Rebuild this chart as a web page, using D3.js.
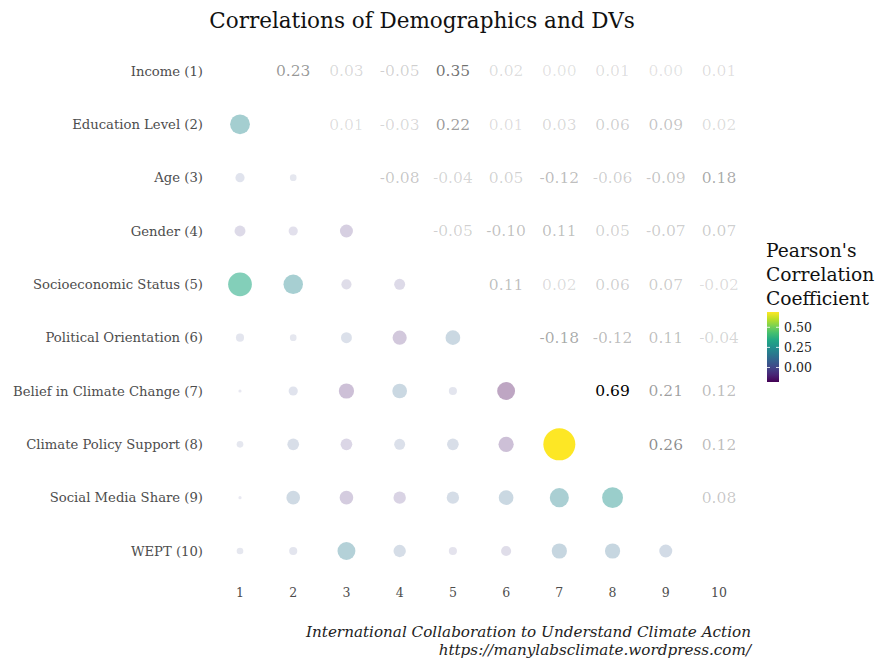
<!DOCTYPE html>
<html>
<head>
<meta charset="utf-8">
<script src="https://cdn.jsdelivr.net/npm/d3@7"></script>
<style>
  body { margin: 0; background: #fff; }
  text { font-family: "DejaVu Serif", Georgia, serif; }
</style>
</head>
<body>
<svg width="877" height="659"></svg>
<script>
// variable names, in matrix order
const labels = [
  "Income (1)", "Education Level (2)", "Age (3)", "Gender (4)",
  "Socioeconomic Status (5)", "Political Orientation (6)",
  "Belief in Climate Change (7)", "Climate Policy Support (8)",
  "Social Media Share (9)", "WEPT (10)"
];
const codes = [1, 2, 3, 4, 5, 6, 7, 8, 9, 10];

// upper triangle of the correlation matrix, row by row (columns i+1..10)
const row1 = [0.23, 0.03, -0.05, 0.35, 0.02, 0.00, 0.01, 0.00, 0.01];
const row2 = [0.01, -0.03, 0.22, 0.01, 0.03, 0.06, 0.09, 0.02];
const row3 = [-0.08, -0.04, 0.05, -0.12, -0.06, -0.09, 0.18];
const row4 = [-0.05, -0.10, 0.11, 0.05, -0.07, 0.07];
const row5 = [0.11, 0.02, 0.06, 0.07, -0.02];
const row6 = [-0.18, -0.12, 0.11, -0.04];
const row7 = [0.69, 0.21, 0.12];
const row8 = [0.26, 0.12];
const row9 = [0.08];
const upper = [row1, row2, row3, row4, row5, row6, row7, row8, row9];

const legendTicks = [0, 0.25, 0.5];

// build cells
const cells = [];
upper.forEach((row, i) => {
  row.forEach((v, k) => {
    const j = i + k + 1;
    cells.push({ row: codes[i], col: codes[j], r: v, type: "text" });
    cells.push({ row: codes[j], col: codes[i], r: v, type: "dot" });
  });
});

const svg = d3.select("svg");

const x = d3.scalePoint().domain(codes).range([240, 719]);
const y = d3.scalePoint().domain(codes).range([71, 551]);

const rMin = -0.18, rMax = 0.69;
const color = d3.scaleSequential(d3.interpolateViridis).domain([rMin, rMax]);
const alpha = d3.scaleLinear().domain([0, rMax]).range([0.12, 1]);
const size = d3.scaleSqrt().domain([0, rMax]).range([1.6, 16]);

// title
svg.append("text")
  .attr("x", 422).attr("y", 28)
  .attr("text-anchor", "middle")
  .attr("font-size", 21.5)
  .attr("fill", "#111")
  .text("Correlations of Demographics and DVs");

// row labels
svg.append("g").selectAll("text")
  .data(codes)
  .join("text")
  .attr("x", 203)
  .attr("y", d => y(d))
  .attr("dy", "0.35em")
  .attr("text-anchor", "end")
  .attr("font-size", 13.2)
  .attr("fill", "#4d4d4d")
  .text(d => labels[d - 1]);

// column labels
svg.append("g").selectAll("text")
  .data(codes)
  .join("text")
  .attr("x", d => x(d))
  .attr("y", 593)
  .attr("dy", "0.35em")
  .attr("text-anchor", "middle")
  .attr("font-size", 12.5)
  .attr("fill", "#4d4d4d")
  .text(d => d);

// dots, lower triangle
svg.append("g").selectAll("circle")
  .data(cells.filter(d => d.type === "dot"))
  .join("circle")
  .attr("cx", d => x(d.col))
  .attr("cy", d => y(d.row))
  .attr("r", d => size(Math.abs(d.r)))
  .attr("fill", d => color(d.r))
  .attr("fill-opacity", d => alpha(Math.abs(d.r)));

// numbers, upper triangle
svg.append("g").selectAll("text")
  .data(cells.filter(d => d.type === "text"))
  .join("text")
  .attr("x", d => x(d.col))
  .attr("y", d => y(d.row))
  .attr("dy", "0.35em")
  .attr("text-anchor", "middle")
  .attr("font-size", 15.5)
  .attr("fill", "#000")
  .attr("fill-opacity", d => alpha(Math.abs(d.r)))
  .text(d => d3.format(".2f")(d.r).replace("−", "-"));

// legend
const lg = svg.append("g");
["Pearson's", "Correlation", "Coefficient"].forEach((t, i) => {
  lg.append("text")
    .attr("x", 766).attr("y", 257 + i * 24)
    .attr("font-size", 18.7)
    .attr("fill", "#111")
    .text(t);
});

const ly = d3.scaleLinear().domain([rMin, rMax]).range([382, 312]);
const grad = svg.append("defs").append("linearGradient")
  .attr("id", "vir").attr("x1", 0).attr("y1", 1).attr("x2", 0).attr("y2", 0);
d3.range(0, 1.001, 0.1).forEach(t => {
  grad.append("stop").attr("offset", t).attr("stop-color", d3.interpolateViridis(t));
});
lg.append("rect")
  .attr("x", 767).attr("y", 312)
  .attr("width", 12).attr("height", 70)
  .attr("fill", "url(#vir)");
legendTicks.forEach(v => {
  lg.append("line")
    .attr("x1", 767).attr("x2", 770)
    .attr("y1", ly(v)).attr("y2", ly(v))
    .attr("stroke", "#fff").attr("stroke-width", 0.8);
  lg.append("line")
    .attr("x1", 776).attr("x2", 779)
    .attr("y1", ly(v)).attr("y2", ly(v))
    .attr("stroke", "#fff").attr("stroke-width", 0.8);
  lg.append("text")
    .attr("x", 784).attr("y", ly(v))
    .attr("dy", "0.35em")
    .attr("font-size", 12.5)
    .attr("fill", "#222")
    .text(d3.format(".2f")(v));
});

// caption
[["International Collaboration to Understand Climate Action", 637],
 ["https://manylabsclimate.wordpress.com/", 655]].forEach(([t, yy]) => {
  svg.append("text")
    .attr("x", 751).attr("y", yy)
    .attr("text-anchor", "end")
    .attr("font-size", 15.2)
    .attr("font-style", "italic")
    .attr("fill", "#222")
    .text(t);
});
</script>
</body>
</html>
